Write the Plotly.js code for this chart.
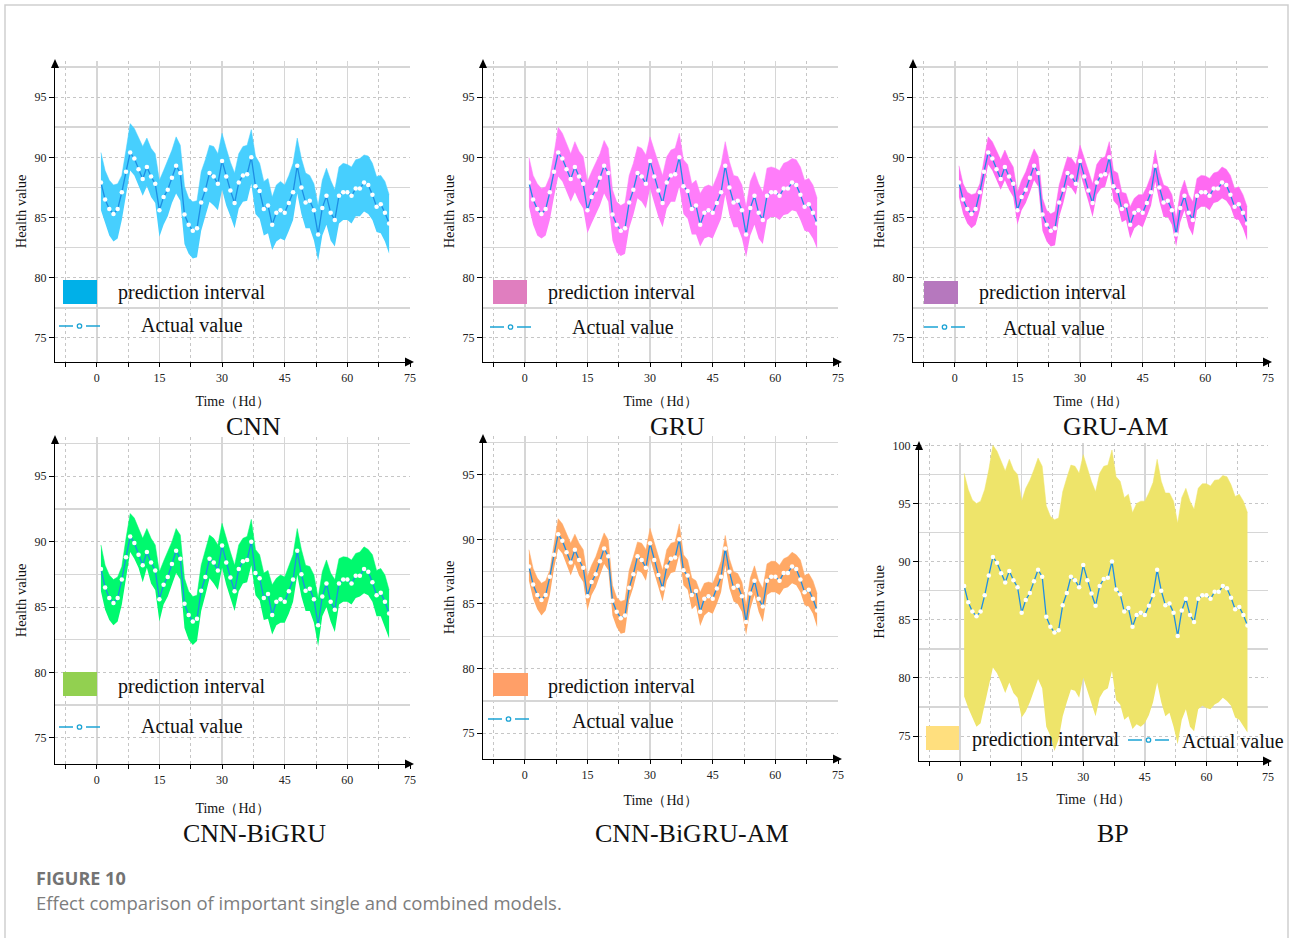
<!DOCTYPE html>
<html><head><meta charset="utf-8">
<script src="https://cdn.plot.ly/plotly-3.0.1.min.js"></script>
<style>html,body{margin:0;padding:0;background:#fff;} #chart{width:1291px;height:938px;}</style>
</head><body><div id="chart"></div>
<script>
// ---------------- DATA ----------------
const timeSteps = [1,2,3,4,5,6,7,8,9,10,11,12,13,14,15,16,17,18,19,20,21,22,23,24,25,26,27,28,29,30,31,32,33,34,35,36,37,38,39,40,41,42,43,44,45,46,47,48,49,50,51,52,53,54,55,56,57,58,59,60,61,62,63,64,65,66,67,68,69,70];
const actualValue = [87.9,86.5,85.7,85.3,85.7,87.1,88.8,90.4,89.9,89.0,88.2,89.2,88.4,87.8,85.6,86.7,87.3,88.3,89.3,88.7,85.25,84.4,83.9,84.1,86.25,87.3,88.7,88.4,87.8,89.7,88.4,87.25,86.2,87.9,88.5,88.6,90.0,87.6,87.2,85.7,86.0,84.4,85.4,85.6,85.4,86.2,87.1,89.3,87.5,86.25,86.4,85.6,83.6,85.8,86.8,85.4,84.8,86.8,87.1,87.1,86.8,87.4,87.4,87.9,87.7,86.9,85.9,86.1,85.4,84.5];

const cnnUpper = [90.4,88.9,88.1,87.7,87.8,88.5,90.6,92.8,92.4,91.7,90.9,91.6,90.75,90.3,88.1,88.9,89.8,90.6,91.7,91.0,87.6,86.6,86.3,86.4,88.8,89.8,91.0,90.9,90.3,92.0,90.75,89.6,88.7,90.3,90.9,91.0,92.3,90.1,89.5,88.0,88.25,86.7,87.7,88.0,87.7,88.5,89.5,91.6,89.9,88.7,88.5,87.8,86.0,88.1,89.1,88.1,87.3,89.2,89.5,89.4,89.2,89.8,89.9,90.2,90.1,89.5,88.4,88.5,88.0,86.9];
const cnnLower = [85.6,84.5,83.5,83.0,83.25,84.8,86.9,88.9,88.5,87.6,86.8,87.6,86.7,86.2,83.4,84.4,85.1,86.2,87.0,86.4,82.8,82.0,81.6,81.7,83.9,85.1,86.3,86.0,85.6,87.3,86.0,85.1,84.1,85.75,86.3,86.4,87.8,85.3,84.9,83.5,83.7,82.3,83.0,83.25,83.1,83.9,84.8,87.0,85.3,84.1,84.1,83.1,81.4,83.5,84.4,83.1,82.6,84.5,84.8,84.8,84.5,85.1,85.1,85.5,85.3,84.8,83.8,83.7,83.0,82.0];

const gruUpper = [90.0,88.5,87.8,87.4,87.55,88.4,90.3,92.5,92.0,91.2,90.3,91.3,90.5,90.05,88.0,88.8,89.5,90.3,91.4,90.75,87.3,86.3,86.0,86.2,88.5,89.5,90.9,90.75,90.2,91.7,90.6,89.5,88.5,90.05,90.6,90.75,92.0,89.8,89.4,87.8,88.1,87.0,87.55,87.7,87.55,88.4,89.4,91.3,89.65,88.5,88.4,87.7,85.9,88.0,88.8,87.8,87.1,89.1,89.2,89.1,88.9,89.5,89.65,89.9,89.8,89.2,88.1,88.25,87.7,86.6];
const gruLower = [85.9,84.4,83.5,83.25,83.5,84.8,86.7,88.4,88.0,87.1,86.3,87.1,86.3,85.75,83.7,84.5,85.2,86.0,87.0,86.3,83.1,82.1,81.8,82.0,84.1,85.2,86.6,86.3,85.75,87.4,86.2,85.05,84.2,85.75,86.3,86.3,87.55,85.3,84.9,83.6,83.6,82.6,83.25,83.4,83.25,84.1,84.9,86.9,85.2,84.2,84.2,83.25,81.7,83.5,84.4,83.25,82.8,84.8,85.05,85.05,84.8,85.2,85.3,85.6,85.5,84.8,83.9,83.8,83.25,82.4];

const gruAmUpper = [89.3,87.8,87.1,86.9,87.0,87.8,89.8,91.7,91.3,90.5,89.8,90.6,89.8,89.2,87.1,88.1,88.8,89.8,90.7,90.05,86.6,85.6,85.3,85.5,87.7,88.9,90.05,89.9,89.4,91.0,89.9,88.8,87.8,89.4,89.9,90.05,91.3,88.9,88.7,87.1,87.0,85.9,86.6,86.9,86.9,87.55,88.5,90.6,88.8,87.7,87.55,86.9,84.9,87.1,88.1,86.9,86.3,88.25,88.5,88.45,88.25,88.7,88.8,89.2,89.0,88.5,87.4,87.55,86.9,85.9];
const gruAmLower = [86.7,85.3,84.5,84.1,84.4,85.6,87.7,89.4,88.9,88.1,87.3,88.1,87.3,86.7,84.4,85.6,86.2,87.1,88.1,87.55,83.9,83.0,82.6,82.7,85.05,86.2,87.7,87.4,86.9,88.7,87.4,86.3,85.05,86.9,87.4,87.55,88.8,86.4,86.0,84.6,84.8,83.25,84.1,84.4,84.2,85.05,86.0,88.0,86.3,85.05,85.05,84.4,82.6,84.6,85.6,84.2,83.5,85.6,85.9,85.9,85.6,86.2,86.3,86.6,86.4,85.9,84.9,84.8,84.1,83.1];

const cnnBigruUpper = [89.75,88.2,87.45,87.1,87.3,88.1,90.25,92.15,91.8,91.0,90.25,91.0,90.25,89.75,87.7,88.5,89.2,90.0,91.0,90.5,87.2,86.2,85.8,85.9,88.2,89.4,90.5,90.25,89.75,91.4,90.25,89.2,88.2,89.75,90.25,90.4,91.7,89.4,89.0,87.6,87.8,86.7,87.2,87.45,87.3,88.1,89.0,91.0,89.4,88.2,88.1,87.45,85.7,87.7,88.6,87.6,87.1,88.7,88.85,88.8,88.6,89.1,89.2,89.6,89.4,89.0,87.8,87.95,87.45,86.3];
const cnnBigruLower = [86.2,84.8,84.0,83.6,83.9,85.2,87.2,89.2,88.7,88.0,86.9,88.0,86.8,86.3,83.9,85.2,85.8,86.7,87.6,87.1,83.4,82.5,82.1,82.4,84.7,85.9,87.2,86.8,86.3,88.0,86.7,85.7,84.7,86.2,86.8,86.9,88.2,85.9,85.5,84.0,84.1,82.9,83.6,83.8,83.8,84.5,85.4,87.45,85.8,84.7,84.7,83.8,82.0,84.3,85.0,83.9,83.1,85.2,85.4,85.4,85.2,85.7,85.8,86.05,85.9,85.4,84.3,84.3,83.5,82.6];

const cnnBigruAmUpper = [89.2,87.75,87.0,86.6,86.8,87.6,89.6,91.6,91.2,90.5,89.7,90.4,89.7,89.2,87.1,88.0,88.65,89.6,90.5,89.95,86.45,85.5,85.2,85.3,87.6,88.65,89.8,89.7,89.2,90.85,89.7,88.65,87.6,89.2,89.7,89.8,91.2,88.8,88.4,87.0,86.8,85.9,86.6,86.7,86.6,87.35,88.3,90.3,88.5,87.5,87.35,86.7,84.9,87.0,87.95,86.8,86.2,88.1,88.3,88.3,88.0,88.5,88.65,89.0,88.8,88.4,87.2,87.35,86.8,85.8];
const cnnBigruAmLower = [86.8,85.4,84.6,84.1,84.5,85.7,87.75,89.3,88.9,88.1,87.2,88.1,87.2,86.7,84.5,85.7,86.3,87.2,88.1,87.6,84.1,83.2,82.7,82.8,85.3,86.3,87.6,87.4,86.8,88.5,87.4,86.2,85.2,86.8,87.4,87.5,88.8,86.45,86.1,84.6,84.9,83.3,84.1,84.4,84.25,85.0,85.9,88.0,86.2,85.2,85.0,84.4,82.6,84.6,85.7,84.4,83.6,85.7,85.9,85.9,85.7,86.2,86.3,86.6,86.45,85.9,84.9,84.8,84.25,83.2];

const bpUpper = [97.6,96.2,95.3,95.0,95.2,96.2,97.9,100.0,99.5,98.6,97.8,98.8,97.9,97.5,95.2,96.3,97.0,97.9,98.9,98.2,94.8,93.9,93.6,93.75,96.0,97.2,98.3,98.2,97.6,99.2,98.05,96.9,96.0,97.6,98.2,98.3,99.6,97.3,96.9,95.5,95.8,94.2,95.0,95.2,95.2,95.9,96.8,98.8,96.9,95.9,95.9,95.2,93.3,95.5,96.3,95.2,94.5,96.3,96.7,96.7,96.5,97.0,97.05,97.4,97.3,96.6,95.6,95.8,95.2,94.2];
const bpLower = [78.4,77.4,76.6,75.8,76.1,77.6,79.3,80.9,80.4,79.6,78.7,79.6,78.7,78.3,76.6,77.1,77.9,78.9,79.9,79.1,75.8,75.0,73.7,74.7,76.7,77.9,79.0,78.9,78.3,80.0,78.9,77.9,76.7,78.3,78.9,79.1,80.6,78.1,77.7,76.4,76.7,75.6,76.0,75.8,76.1,76.8,77.9,79.6,77.9,76.7,77.0,75.8,74.3,76.4,77.3,75.8,75.4,77.3,77.6,77.4,77.3,77.7,77.9,78.3,78.0,77.6,76.6,76.4,75.8,75.3];

const panelNames = ['CNN','GRU','GRU-AM','CNN-BiGRU','CNN-BiGRU-AM','BP'];
const upperBounds = [cnnUpper, gruUpper, gruAmUpper, cnnBigruUpper, cnnBigruAmUpper, bpUpper];
const lowerBounds = [cnnLower, gruLower, gruAmLower, cnnBigruLower, cnnBigruAmLower, bpLower];
const xTickVals = [0,15,30,45,60,75];
const legendLabels = ['prediction interval','Actual value'];
const xTitle = 'Time（Hd）';
const yTitle = 'Health value';
const captionTitle = 'FIGURE 10';
const captionText = 'Effect comparison of important single and combined models.';

// ---------------- STYLE / LAYOUT CONFIG ----------------
const W = 1291, H = 938;
const bandColors = ['#47CFFE','#FF7DFA','#FF6AF2','#00F96E','#FFA966','#EEE46A'];
const swatchColors = ['#00B0E8','#E07EBF','#B678BE','#92D050','#FF9F68','#FFDF7E'];
const lineColor = '#1E8EE4';
const legLineColor = '#1BA3D4';
const serif = 'Liberation Serif, Times New Roman, serif';

const panels = [
  {x:[55,410],  y:[61,362],  yr:[73,98],      label:[253,425],  sw:[63,97,280,304],  t1:[116,292], ln:[59,326],   t2:[139,325]},
  {x:[483,838], y:[61,362],  yr:[73,98],      label:[677,425],  sw:[493,527,280,304], t1:[546,292], ln:[490,327],  t2:[570,327]},
  {x:[913,1268],y:[61,362],  yr:[73,98],      label:[1115,425], sw:[924,958,281,304], t1:[977,292], ln:[924,327],  t2:[1001,328]},
  {x:[55,410],  y:[437,764], yr:[73,98],      label:[254,832],  sw:[63,97,672,696],  t1:[116,686], ln:[59,727],   t2:[139,726]},
  {x:[483,838], y:[436,759], yr:[73,98],      label:[692,832],  sw:[493,528,673,696], t1:[546,686], ln:[488,719],  t2:[570,721]},
  {x:[919,1268],y:[443,761], yr:[72.85,100.2],label:[1113,832], sw:[926,959,726,750], t1:[970,739], ln:[1128,740], t2:[1180,741]}
];
const xTitleStandoff = [12, 12, 12, 17, 14, 11];

const px = v => v / W;
const py = v => 1 - v / H;

const traces = [];
const layout = {
  width: W, height: H,
  margin: {l:0, r:0, t:0, b:0},
  paper_bgcolor: '#ffffff', plot_bgcolor: 'rgba(0,0,0,0)',
  showlegend: false,
  font: {family: serif, color: '#222'},
  shapes: [], annotations: []
};

panels.forEach((p, i) => {
  const sfx = i === 0 ? '' : String(i + 1);
  const xa = 'x' + sfx, ya = 'y' + sfx;
  traces.push({x: timeSteps, y: lowerBounds[i], xaxis: xa, yaxis: ya, mode: 'lines',
    line: {width: 0, color: bandColors[i]}, hoverinfo: 'skip', showlegend: false});
  traces.push({x: timeSteps, y: upperBounds[i], xaxis: xa, yaxis: ya, mode: 'lines', fill: 'tonexty',
    fillcolor: bandColors[i], line: {width: 0.5, color: bandColors[i]}, name: legendLabels[0], showlegend: false});
  traces.push({x: timeSteps, y: actualValue, xaxis: xa, yaxis: ya, mode: 'lines+markers',
    line: {color: lineColor, width: 1.3}, marker: {size: 4.5, color: '#ffffff', line: {width: 0}},
    name: legendLabels[1], showlegend: false});

  layout['xaxis' + sfx] = {
    domain: [px(p.x[0]), px(p.x[1])], anchor: ya, range: [-10, 75],
    tickmode: 'array', tickvals: xTickVals, ticks: '',
    showgrid: true, gridcolor: '#d6d6d6', gridwidth: 1.5,
    showline: true, linecolor: '#000', linewidth: 1.2, zeroline: false,
    tickfont: {family: serif, size: 12, color: '#222'}, ticklabelstandoff: 4,
    minor: {tickmode: 'linear', tick0: 0, dtick: 7.5, ticks: 'outside', ticklen: 4, tickcolor: '#000', tickwidth: 1,
            showgrid: true, gridcolor: '#c6c6c6', griddash: 'dot', gridwidth: 1},
    title: {text: xTitle, font: {family: serif, size: 14, color: '#111'}, standoff: xTitleStandoff[i]},
    fixedrange: true
  };
  layout['yaxis' + sfx] = {
    domain: [py(p.y[1]), py(p.y[0])], anchor: xa, range: p.yr,
    tickmode: 'linear', tick0: 0, dtick: 5, ticks: 'outside', ticklen: 5, tickcolor: '#000', tickwidth: 1,
    showgrid: true, gridcolor: '#c6c6c6', griddash: 'dot', gridwidth: 1,
    showline: true, linecolor: '#000', linewidth: 1.2, zeroline: false,
    tickfont: {family: serif, size: 12, color: '#222'},
    minor: {tickmode: 'linear', tick0: 0, dtick: 2.5, ticks: '', showgrid: true, gridcolor: '#d6d6d6', griddash: 'solid', gridwidth: 1.5},
    title: {text: yTitle, font: {family: serif, size: 14.5, color: '#111'}, standoff: 4},
    fixedrange: true
  };

  const x0 = p.x[0], x1 = p.x[1], yt = p.y[0], yb = p.y[1];
  layout.shapes.push({type: 'path', xref: 'paper', yref: 'paper', fillcolor: '#000', line: {width: 0},
    path: `M ${px(x0)} ${py(yt - 2)} L ${px(x0 - 4)} ${py(yt + 7)} L ${px(x0 + 4)} ${py(yt + 7)} Z`});
  layout.shapes.push({type: 'path', xref: 'paper', yref: 'paper', fillcolor: '#000', line: {width: 0},
    path: `M ${px(x1 + 4)} ${py(yb)} L ${px(x1 - 5)} ${py(yb - 4.5)} L ${px(x1 - 5)} ${py(yb + 4.5)} Z`});

  layout.shapes.push({type: 'rect', xref: 'paper', yref: 'paper', line: {width: 0}, fillcolor: swatchColors[i],
    x0: px(p.sw[0]), x1: px(p.sw[1]), y0: py(p.sw[3]), y1: py(p.sw[2])});
  layout.annotations.push({xref: 'paper', yref: 'paper', x: px(p.t1[0]), y: py(p.t1[1]), xanchor: 'left', yanchor: 'middle',
    text: legendLabels[0], showarrow: false, font: {family: serif, size: 20, color: '#111'}});
  const lx = p.ln[0], ly = p.ln[1];
  layout.shapes.push({type: 'line', xref: 'paper', yref: 'paper', x0: px(lx), x1: px(lx + 14), y0: py(ly), y1: py(ly),
    line: {color: legLineColor, width: 1.5}});
  layout.shapes.push({type: 'line', xref: 'paper', yref: 'paper', x0: px(lx + 27), x1: px(lx + 41), y0: py(ly), y1: py(ly),
    line: {color: legLineColor, width: 1.5}});
  layout.shapes.push({type: 'circle', xref: 'paper', yref: 'paper', x0: px(lx + 18.3), x1: px(lx + 22.7), y0: py(ly + 2.2), y1: py(ly - 2.2),
    fillcolor: '#ffffff', line: {color: legLineColor, width: 1.3}});
  layout.annotations.push({xref: 'paper', yref: 'paper', x: px(p.t2[0]), y: py(p.t2[1]), xanchor: 'left', yanchor: 'middle',
    text: legendLabels[1], showarrow: false, font: {family: serif, size: 20, color: '#111'}});

  layout.annotations.push({xref: 'paper', yref: 'paper', x: px(p.label[0]), y: py(p.label[1] + 1), xanchor: 'center', yanchor: 'middle',
    text: panelNames[i], showarrow: false, font: {family: serif, size: 26, color: '#111'}});
});

layout.shapes.unshift({type: 'rect', xref: 'paper', yref: 'paper', layer: 'below',
  x0: px(5), x1: px(1288), y0: py(945), y1: py(5), line: {color: '#cfcfcf', width: 1.5}, fillcolor: 'rgba(0,0,0,0)'});

layout.annotations.push({xref: 'paper', yref: 'paper', x: px(34), y: py(878), xanchor: 'left', yanchor: 'middle',
  text: '<b>' + captionTitle + '</b>', showarrow: false, font: {family: 'Open Sans, Noto Sans, sans-serif', size: 18, color: '#737373'}});
layout.annotations.push({xref: 'paper', yref: 'paper', x: px(34), y: py(902), xanchor: 'left', yanchor: 'middle',
  text: captionText, showarrow: false, font: {family: 'Open Sans, Noto Sans, sans-serif', size: 18.5, color: '#7d7d7d'}});

Plotly.newPlot('chart', traces, layout, {displayModeBar: false, staticPlot: true});
</script>
</body></html>
